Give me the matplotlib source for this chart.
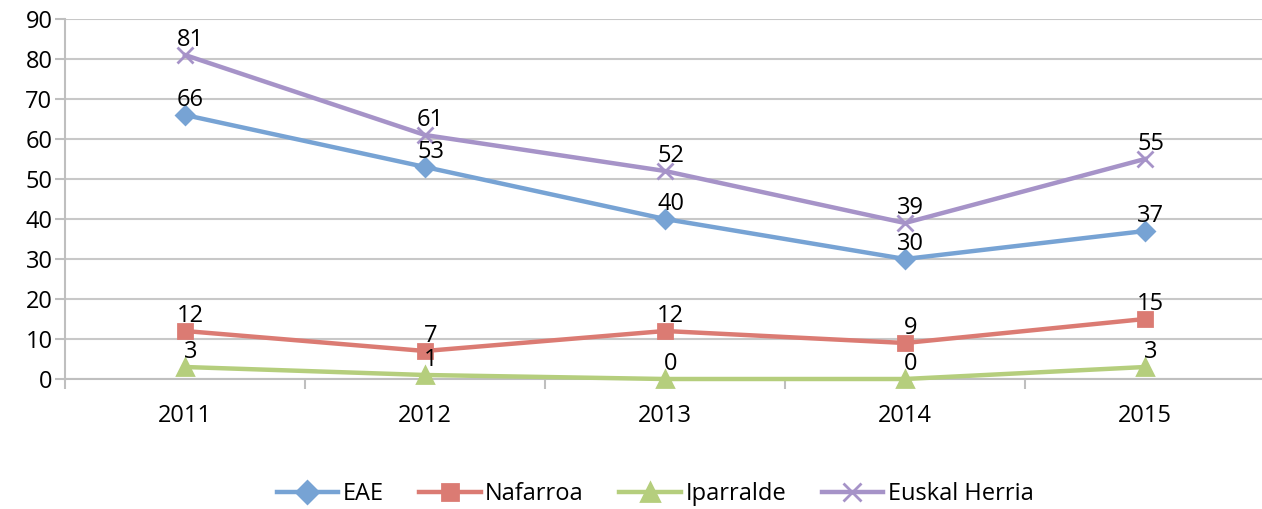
import matplotlib
matplotlib.use("Agg")
import matplotlib.pyplot as plt

anos = ["2011", "2012", "2013", "2014", "2015"]
eae = [66, 53, 40, 30, 37]
nafarroa = [12, 7, 12, 9, 15]
iparralde = [3, 1, 0, 0, 3]
euskal_herria = [81, 61, 52, 39, 55]

plt.rcParams["font.family"] = ["Open Sans", "DejaVu Sans"]

fig = plt.figure(figsize=(12.62, 5.09), dpi=100)
ax = fig.add_axes([65 / 1262, 1 - 379 / 509, 1200 / 1262, 360 / 509])

series = [
    ("EAE", eae, "#77A3D4", "D", 9),
    ("Nafarroa", nafarroa, "#DB7B73", "s", 10),
    ("Iparralde", iparralde, "#B5CE7D", "^", 11),
    ("Euskal Herria", euskal_herria, "#A693C8", "x", 11),
]
x = list(range(len(anos)))
for nome, vals, cor, mk, ms in series:
    ax.plot(x, vals, color=cor, lw=3.2, marker=mk, ms=ms, mew=2, label=nome, clip_on=False, zorder=3)
    for xi, v in zip(x, vals):
        ax.annotate(str(v), (xi, v), xytext=(4, 2), textcoords="offset points",
                    ha="center", va="bottom", fontsize=17, color="black", zorder=4)

ax.set_xlim(-0.5, 4.5)
ax.set_ylim(0, 90)
ax.set_yticks(range(0, 91, 10))
ax.set_xticks(x)
ax.set_xticklabels(anos)
ax.set_xticks([i - 0.5 for i in range(6)], minor=True)
ax.tick_params(axis="x", which="major", length=0, pad=18, labelsize=17)
ax.tick_params(axis="x", which="minor", length=7, color="#BFBFBF", width=1.5)
ax.tick_params(axis="y", length=7, color="#BFBFBF", width=1.5, labelsize=17, pad=2)
ax.grid(axis="y", color="#C8C8C8", lw=1.5)
ax.set_axisbelow(True)
for s in ["top", "right"]:
    ax.spines[s].set_visible(False)
ax.spines["left"].set_color("#BFBFBF")
ax.spines["left"].set_linewidth(1.5)
ax.spines["bottom"].set_color("#BFBFBF")
ax.spines["bottom"].set_linewidth(1.5)

fig.legend(loc="center", bbox_to_anchor=(655 / 1262, 1 - 494 / 509), ncol=4, frameon=False,
           fontsize=17, handlelength=2.6, handletextpad=0.2, columnspacing=1.5, markerscale=1.2)

fig.savefig("out.png", dpi=100)
